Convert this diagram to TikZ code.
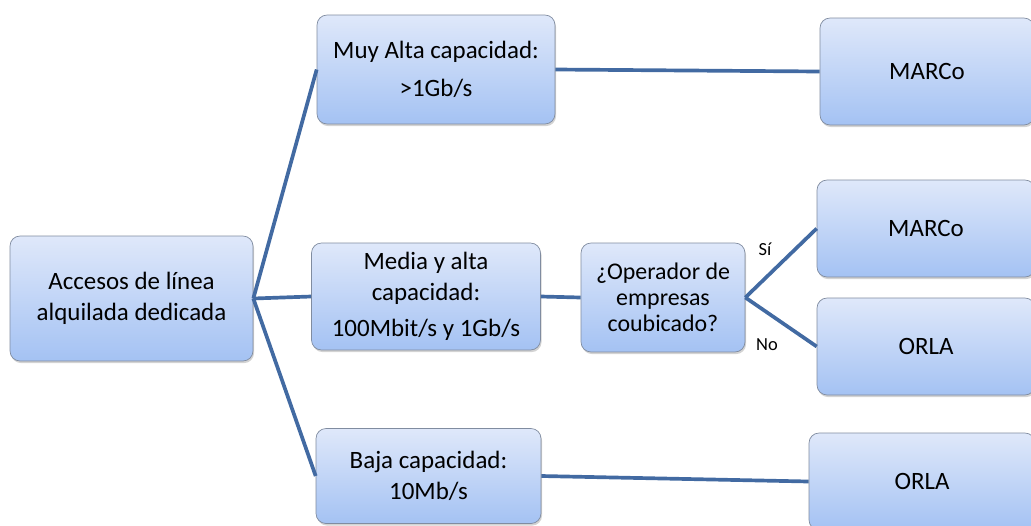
\documentclass[tikz,border=0pt]{standalone}
\usepackage{fontspec}
\setmainfont{Carlito}
\usepackage{tikz}
\usetikzlibrary{shadows}

\definecolor{linea}{RGB}{66,106,162}
\definecolor{borde}{RGB}{128,140,160}
\definecolor{cajaarriba}{RGB}{223,232,250}
\definecolor{cajaabajo}{RGB}{164,194,243}

\begin{document}
\begin{tikzpicture}[x=0.02cm, y=-0.02cm,
  caja/.style={draw=borde, rounded corners=0.2cm, top color=cajaarriba, bottom color=cajaabajo,
    align=center, inner sep=0pt, font=\fontsize{14.2pt}{17.4pt}\selectfont,
    drop shadow={shadow xshift=0.6pt, shadow yshift=-1.2pt, opacity=0.35}},
  rama/.style={draw=linea, line width=2.1pt},
  etiq/.style={font=\fontsize{10.5pt}{12pt}\selectfont}]
\useasboundingbox (0,0) rectangle (1031,525);
\clip (0,0) rectangle (1031,525);

% cajas
\node[caja, minimum width=4.86cm, minimum height=2.5cm] (acceso) at (131.5,298.5) {Accesos de línea\\alquilada dedicada};
\node[caja, minimum width=4.76cm, minimum height=2.18cm] (muyalta) at (436,69.5) {Muy Alta capacidad:\\[4pt]>1Gb/s};
\node[caja, minimum width=4.58cm, minimum height=2.14cm] (media) at (426,296.5) {Media y alta\\capacidad:\\[3pt]100Mbit/s y 1Gb/s};
\node[caja, minimum width=4.5cm, minimum height=1.9cm] (baja) at (428.5,476) {Baja capacidad:\\10Mb/s};
\node[caja, minimum width=3.28cm, minimum height=2.18cm, font=\fontsize{13.6pt}{14.8pt}\selectfont] (operador) at (663,297.5) {¿Operador de\\empresas\\coubicado?};
\node[caja, minimum width=4.28cm, minimum height=2.14cm] (marcoA) at (927,71.5) {MARCo};
\node[caja, minimum width=4.36cm, minimum height=1.94cm] (marcoB) at (926,228.5) {MARCo};
\node[caja, minimum width=4.36cm, minimum height=1.94cm] (orlaA) at (926,346.5) {ORLA};
\node[caja, minimum width=4.52cm, minimum height=1.94cm] (orlaB) at (922,481.5) {ORLA};

% ramas
\draw[rama] (acceso.east) -- (muyalta.west);
\draw[rama] (acceso.east) -- (media.west);
\draw[rama] (acceso.east) -- (baja.west);
\draw[rama] (muyalta.east) -- (marcoA.west);
\draw[rama] (media.east) -- (operador.west);
\draw[rama] (baja.east) -- (orlaB.west);
\draw[rama] (operador.east) -- (marcoB.west);
\draw[rama] (operador.east) -- (orlaA.west);

\node[etiq] (si) at (765,249) {Sí};
\node[etiq] (no) at (767,345) {No};
\end{tikzpicture}
\end{document}
